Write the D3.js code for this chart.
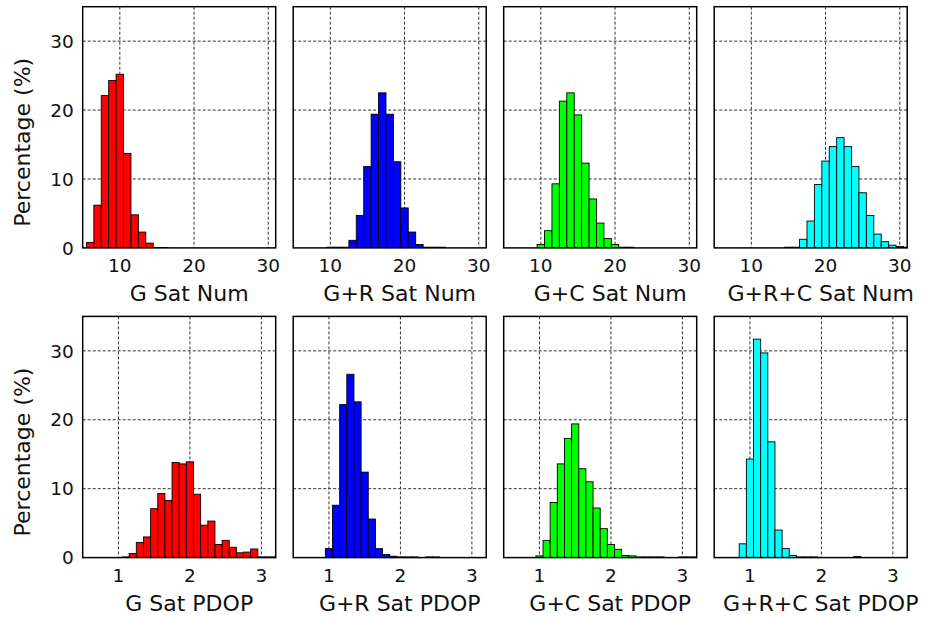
<!DOCTYPE html>
<html>
<head>
<meta charset="utf-8">
<script src="https://cdn.jsdelivr.net/npm/d3@7"></script>
<style>
  body { margin: 0; background: #fff; }
  svg { display: block; font-family: "DejaVu Sans", Verdana, sans-serif; }
</style>
</head>
<body>
<svg id="chart" width="933" height="617"></svg>
<script>
// percentage of epochs per bin

// satellite number bins (centred on integers)
var numBins = d3.range(6, 32);
var gNum   = [0.8, 6.2, 22.1, 24.3, 25.2, 13.7, 4.8, 2.3, 0.7, 0.05, 0.05, 0, 0, 0, 0, 0, 0, 0, 0, 0, 0, 0, 0, 0, 0, 0];
var grNum  = [0, 0, 0, 0, 0.1, 0.1, 0.1, 1.1, 4.7, 11.8, 19.4, 22.5, 19.4, 12.5, 5.8, 2.3, 0.5, 0.1, 0.1, 0.1, 0, 0, 0, 0, 0, 0];
var gcNum  = [0, 0, 0, 0, 0.5, 2.5, 9.3, 21.3, 22.5, 19.3, 12.3, 7.1, 3.6, 1.35, 0.5, 0.1, 0.1, 0, 0, 0, 0, 0, 0, 0, 0, 0];
var grcNum = [0, 0, 0, 0, 0, 0, 0, 0, 0, 0.1, 0.1, 1.25, 3.9, 9.2, 12.6, 14.7, 16.0, 14.7, 11.8, 8.0, 4.7, 2.0, 0.9, 0.4, 0.2, 0.1];

// PDOP bins (width 0.1, centred on tenths)
var pdopBins = d3.range(8, 33).map(function (d) { return d / 10; });
var gPdop   = [0, 0, 0, 0.1, 0.6, 2.2, 3.0, 7.1, 9.3, 8.3, 13.8, 13.6, 13.9, 9.2, 4.7, 5.3, 1.9, 2.5, 1.5, 0.7, 0.8, 1.25, 0.1, 0.1, 0.1];
var grPdop  = [0, 0, 1.3, 7.6, 22.2, 26.6, 22.6, 12.4, 5.6, 1.3, 0.45, 0.2, 0.1, 0.1, 0.1, 0, 0.1, 0.1, 0, 0, 0, 0, 0, 0, 0];
var gcPdop  = [0, 0, 0.25, 2.5, 8.0, 13.6, 17.3, 19.4, 12.9, 11.0, 7.2, 4.2, 1.9, 1.2, 0.3, 0.25, 0.1, 0.1, 0.1, 0.1, 0, 0, 0.1, 0.1, 0.1];
var grcPdop = [0, 2.0, 14.3, 31.7, 29.7, 16.8, 4.0, 1.3, 0.3, 0.1, 0.1, 0.1, 0, 0, 0, 0, 0, 0.15, 0, 0, 0, 0, 0, 0, 0];

var yTicks = [0, 10, 20, 30];
var numTicks = [10, 20, 30];
var pdopTicks = [1, 2, 3];

var panels = [
  { row: 0, col: 0, bins: numBins, values: gNum,   color: '#ff0000', label: 'G Sat Num' },
  { row: 0, col: 1, bins: numBins, values: grNum,  color: '#0000ff', label: 'G+R Sat Num' },
  { row: 0, col: 2, bins: numBins, values: gcNum,  color: '#00ff00', label: 'G+C Sat Num' },
  { row: 0, col: 3, bins: numBins, values: grcNum, color: '#00ffff', label: 'G+R+C Sat Num' },
  { row: 1, col: 0, bins: pdopBins, values: gPdop,   color: '#ff0000', label: 'G Sat PDOP' },
  { row: 1, col: 1, bins: pdopBins, values: grPdop,  color: '#0000ff', label: 'G+R Sat PDOP' },
  { row: 1, col: 2, bins: pdopBins, values: gcPdop,  color: '#00ff00', label: 'G+C Sat PDOP' },
  { row: 1, col: 3, bins: pdopBins, values: grcPdop, color: '#00ffff', label: 'G+R+C Sat PDOP' }
];

var svg = d3.select('#chart');

// panel geometry
var panelW = 193, panelH = 241.2;
var left0 = 82.7, colStep = 210.5;
var tops = [6.7, 316.4];

panels.forEach(function (p) {
  var isNum = p.row === 0;
  var x0 = left0 + p.col * colStep;
  var y0 = tops[p.row];
  var binW = isNum ? 1 : 0.1;

  var x = d3.scaleLinear()
    .domain(isNum ? [5, 31] : [0.5, 3.2])
    .range([0, panelW]);
  var y = d3.scaleLinear()
    .domain([0, 35])
    .range([panelH, 0]);

  var g = svg.append('g')
    .attr('transform', 'translate(' + x0 + ',' + y0 + ')');

  g.append('clipPath')
    .attr('id', 'clip' + p.row + p.col)
    .append('rect')
    .attr('width', panelW)
    .attr('height', panelH);

  // dashed grid
  var xt = isNum ? numTicks : pdopTicks;
  g.selectAll('.vgrid')
    .data(xt)
    .enter().append('line')
    .attr('x1', function (d) { return x(d); })
    .attr('x2', function (d) { return x(d); })
    .attr('y1', 0)
    .attr('y2', panelH)
    .attr('stroke', '#333')
    .attr('stroke-width', 1)
    .attr('stroke-dasharray', '3,2');
  g.selectAll('.hgrid')
    .data(yTicks.slice(1))
    .enter().append('line')
    .attr('x1', 0)
    .attr('x2', panelW)
    .attr('y1', function (d) { return y(d); })
    .attr('y2', function (d) { return y(d); })
    .attr('stroke', '#333')
    .attr('stroke-width', 1)
    .attr('stroke-dasharray', '3,2');

  // bars
  var data = p.bins.map(function (b, i) { return { b: b, v: p.values[i] }; })
    .filter(function (d) { return d.v > 0; });
  g.append('g')
    .attr('clip-path', 'url(#clip' + p.row + p.col + ')')
    .selectAll('rect')
    .data(data)
    .enter().append('rect')
    .attr('x', function (d) { return x(d.b - binW / 2); })
    .attr('width', function (d) { return x(d.b + binW / 2) - x(d.b - binW / 2); })
    .attr('y', function (d) { return y(d.v); })
    .attr('height', function (d) { return y(0) - y(d.v); })
    .attr('fill', p.color)
    .attr('stroke', '#000')
    .attr('stroke-width', 0.9);

  // box
  g.append('rect')
    .attr('width', panelW)
    .attr('height', panelH)
    .attr('fill', 'none')
    .attr('stroke', '#000')
    .attr('stroke-width', 1.5);

  // x tick labels
  g.selectAll('.xtl')
    .data(xt)
    .enter().append('text')
    .attr('x', function (d) { return x(d); })
    .attr('y', panelH + 24)
    .attr('text-anchor', 'middle')
    .attr('font-size', 18.5)
    .attr('fill', '#111')
    .text(function (d) { return d; });

  // x axis label
  g.append('text')
    .attr('x', panelW / 2 + 10)
    .attr('y', panelH + 53.5)
    .attr('text-anchor', 'middle')
    .attr('font-size', 22)
    .attr('fill', '#111')
    .text(p.label);

  if (p.col === 0) {
    g.selectAll('.ytl')
      .data(yTicks)
      .enter().append('text')
      .attr('x', -9)
      .attr('y', function (d) { return y(d); })
      .attr('dy', '0.36em')
      .attr('text-anchor', 'end')
      .attr('font-size', 18.5)
      .attr('fill', '#111')
      .text(function (d) { return d; });

    g.append('text')
      .attr('transform', 'translate(' + (-53) + ',' + (panelH / 2 + 15) + ') rotate(-90)')
      .attr('text-anchor', 'middle')
      .attr('font-size', 22)
      .attr('fill', '#111')
      .text('Percentage (%)');
  }
});
</script>
</body>
</html>
